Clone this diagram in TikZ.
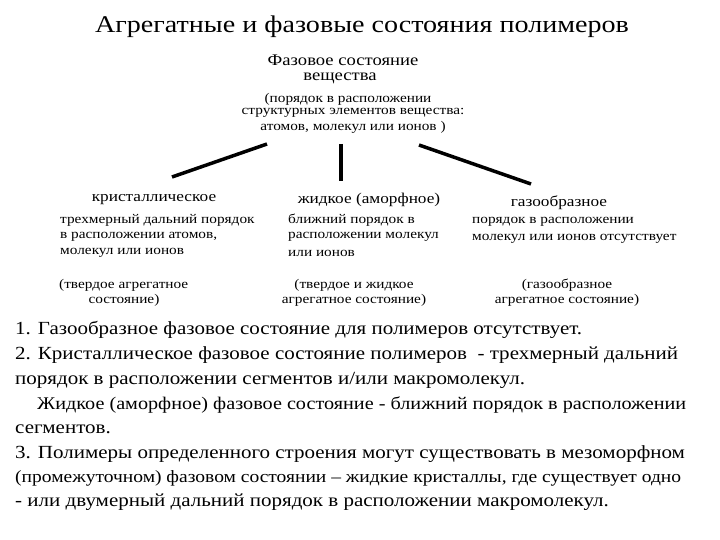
\documentclass[tikz,border=0pt]{standalone}
\usepackage{fontspec}
\setmainfont{Liberation Serif}
\newfontfamily\wide[FakeStretch=1.15]{Liberation Serif}
\newfontfamily\widb[FakeStretch=1.135]{Liberation Serif}
\newfontfamily\widt[FakeStretch=1.17]{Liberation Serif}
\begin{document}
\begin{tikzpicture}[x=1pt,y=-1pt,
  sm/.style={font=\wide\fontsize{13.3}{15}\selectfont,inner sep=0pt},
  cat/.style={font=\wide\fontsize{15}{17}\selectfont,inner sep=0pt},
  rt/.style={font=\wide\fontsize{16.2}{18}\selectfont,inner sep=0pt},
  bt/.style={font=\widb\fontsize{18.5}{20}\selectfont,inner sep=0pt,anchor=west},
  link/.style={line width=3.5pt}]
\fill[white] (0,0) rectangle (720,540);
\useasboundingbox (0,0) rectangle (720,540);
\node[font=\widt\fontsize{24}{26}\selectfont,inner sep=0pt] (title) at (362,27) {Агрегатные и фазовые состояния полимеров};
\node[rt] (root) at (343,60) {Фазовое состояние};
\node[rt] (root2) at (340,78) {вещества};
\node[sm] (r3) at (348,99) {(порядок в расположении};
\node[sm] (r4) at (353,113) {структурных элементов вещества:};
\node[sm] (r5) at (353,127) {атомов, молекул или ионов )};
\coordinate (a1) at (267,144); \coordinate (a2) at (172,177);
\coordinate (b1) at (341,144); \coordinate (b2) at (341,181);
\coordinate (c1) at (419,145); \coordinate (c2) at (531,184);
\draw[link] (a1) -- (a2);
\draw[link] (b1) -- (b2);
\draw[link] (c1) -- (c2);
\node[cat] (k) at (154,200) {кристаллическое};
\node[sm,anchor=west] (k1) at (60,220) {трехмерный дальний порядок};
\node[sm,anchor=west] (k2) at (60,237) {в расположении атомов,};
\node[sm,anchor=west] (k3) at (60,253) {молекул или ионов};
\node[sm,anchor=west] (k4) at (59,285) {(твердое агрегатное};
\node[sm] (k5) at (124,300) {состояние)};
\node[cat] (z) at (369,200) {жидкое (аморфное)};
\node[sm,anchor=west] (z1) at (288,220) {ближний порядок в};
\node[sm,anchor=west] (z2) at (288,237) {расположении молекул};
\node[sm,anchor=west] (z3) at (288,253) {или ионов};
\node[sm] (z4) at (354,285) {(твердое и жидкое};
\node[sm] (z5) at (354,300) {агрегатное состояние)};
\node[cat] (g) at (559,203) {газообразное};
\node[sm,anchor=west] (g1) at (472,222) {порядок в расположении};
\node[sm,anchor=west] (g2) at (472,239) {молекул или ионов отсутствует};
\node[sm] (g4) at (567,285) {(газообразное};
\node[sm] (g5) at (567,300) {агрегатное состояние)};
\node[bt] (t1) at (15,330) {1. Газообразное фазовое состояние для полимеров отсутствует.};
\node[bt] (t2) at (15,355) {2. Кристаллическое фазовое состояние полимеров \ - трехмерный дальний};
\node[bt] (t3) at (15,380) {порядок в расположении сегментов и/или макромолекул.};
\node[bt,font=\widb\fontsize{17.8}{20}\selectfont] (t4) at (37,405) {Жидкое (аморфное) фазовое состояние - ближний порядок в расположении};
\node[bt] (t5) at (15,429) {сегментов.};
\node[bt] (t6) at (15,454) {3. Полимеры определенного строения могут существовать в мезоморфном};
\node[bt,font=\widb\fontsize{17.2}{20}\selectfont] (t7) at (15,478) {(промежуточном) фазовом состоянии – жидкие кристаллы, где существует одно};
\node[bt] (t8) at (15,502) {- или двумерный дальний порядок в расположении макромолекул.};
\end{tikzpicture}
\end{document}
